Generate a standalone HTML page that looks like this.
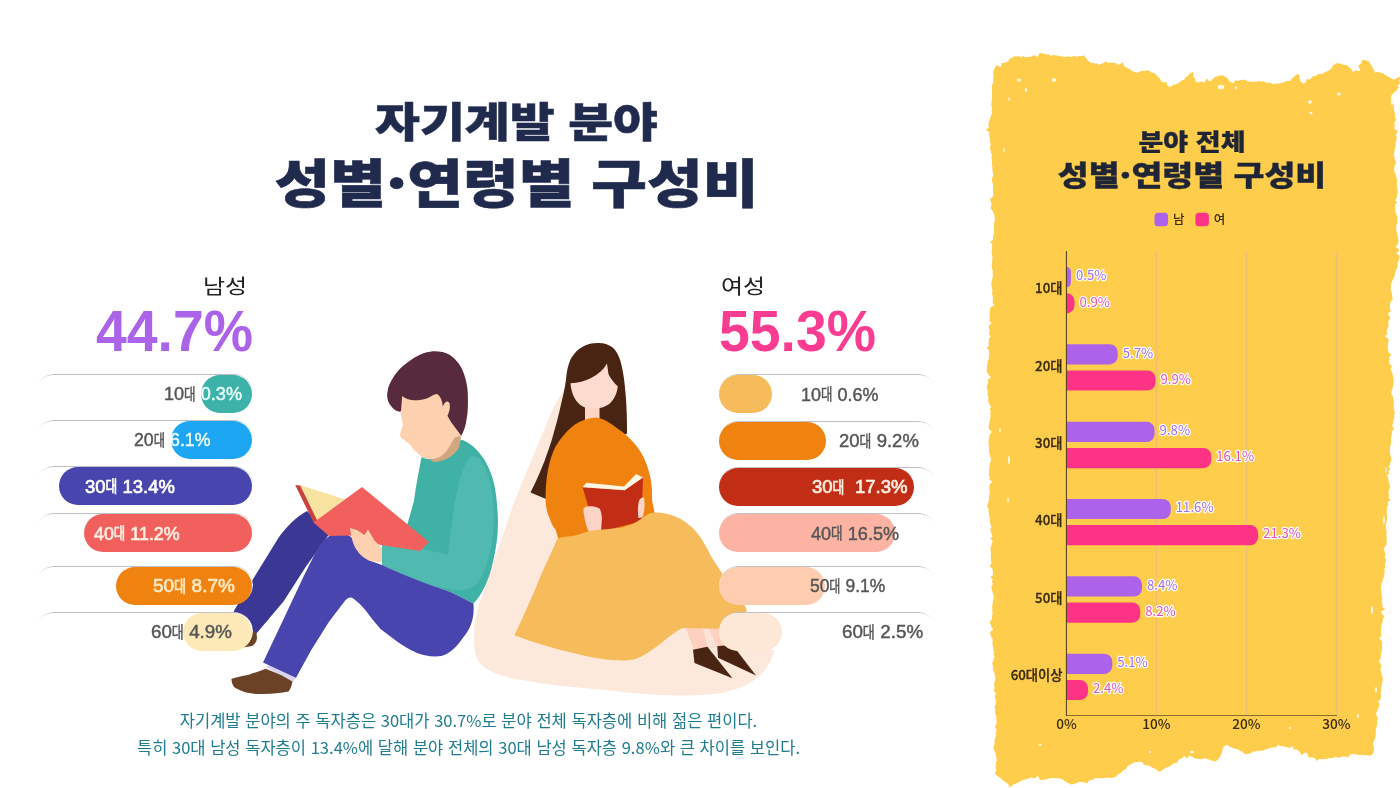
<!DOCTYPE html>
<html lang="ko">
<head>
<meta charset="utf-8">
<title>자기계발 분야 성별·연령별 구성비</title>
<style>
html,body{margin:0;padding:0;}
body{width:1400px;height:788px;position:relative;overflow:hidden;background:#fff;
  font-family:"Liberation Sans","Noto Sans CJK KR","NanumGothic",sans-serif;color:#222;}
.abs{position:absolute;}
.kr{font-family:"Noto Sans CJK KR","NanumGothic",sans-serif;}
.t1{left:0;width:1033px;top:88.5px;text-align:center;font-size:41px;font-weight:900;color:#1f2a4d;line-height:60px;white-space:nowrap;transform:scaleX(1.19);transform-origin:50% 50%;-webkit-text-stroke:0.5px #1f2a4d;}
.t2{left:0;width:1033px;top:140.7px;text-align:center;font-size:52px;font-weight:900;color:#1f2a4d;line-height:80px;white-space:nowrap;transform:scaleX(1.164);transform-origin:50% 50%;-webkit-text-stroke:0.6px #1f2a4d;}
.glabel{font-size:20.5px;transform-origin:0 50%;transform:scaleX(1.17);font-weight:400;color:#222;line-height:30px;white-space:nowrap;}
.gnum{font-size:57.4px;transform-origin:0 50%;transform:scaleX(0.965);font-weight:700;line-height:60px;white-space:nowrap;font-family:"Liberation Sans","Noto Sans CJK KR",sans-serif;}
.track{position:absolute;height:38px;border-radius:19px;background:#fff;box-sizing:border-box;border-top:1.7px solid #bfc0c6;}
.track.m{-webkit-mask-image:linear-gradient(90deg,transparent 1px,#000 14px);mask-image:linear-gradient(90deg,transparent 1px,#000 14px);}
.track.f{-webkit-mask-image:linear-gradient(270deg,transparent 1px,#000 14px);mask-image:linear-gradient(270deg,transparent 1px,#000 14px);}
.bar{position:absolute;height:38px;border-radius:19px;}
.bl{position:absolute;font-size:19px;line-height:38px;white-space:nowrap;color:#555;transform-origin:0 50%;-webkit-text-stroke:0.45px currentColor;}
.bl.bb{-webkit-text-stroke:0.7px currentColor;}
.bl .d{font-family:"Noto Sans CJK KR","NanumGothic",sans-serif;font-size:15.5px;display:inline-block;transform:scaleX(.85);transform-origin:50% 50%;margin:0 -1px;position:relative;top:-0.5px;}
.pt1{left:992px;width:400px;top:122.5px;text-align:center;font-size:23px;font-weight:900;color:#1f2535;line-height:34px;white-space:nowrap;transform:scaleX(1.175);-webkit-text-stroke:0.3px #1f2535;}
.pt2{left:992px;width:400px;top:154px;text-align:center;font-size:28.4px;font-weight:900;color:#1f2535;line-height:40px;white-space:nowrap;transform:scaleX(1.183);-webkit-text-stroke:0.35px #1f2535;}
.foot{left:0;width:937px;text-align:center;font-size:16.55px;color:#1f7c90;line-height:24px;white-space:nowrap;}
</style>
</head>
<body>
<!-- titles -->
<div class="abs kr t1">자기계발 분야</div>
<div class="abs kr t2">성별·연령별 구성비</div>

<!-- illustrations -->
<svg class="abs" id="illus" style="left:0;top:0" width="1400" height="788" viewBox="0 0 1400 788">
  <!-- peach blob behind the woman -->
  <path fill="#fde9dc" d="M580,365 L557.4,400.3 C551,412 546,425 541.2,436.8 L520.9,485.5 C515,500 509,516 504.6,530 L490.4,570.7 L478.3,607.3 C475.5,617 474.3,625 474.2,631.6 C473.6,642 474,650 476.2,656 C478.5,662.5 483,667 488.4,670 C498,675 508,678 520.9,680 C545,684.5 575,687.5 600,689.5 C620,691.5 635,693.5 650,694.5 C675,696 700,696 718,693.5 C735,691 748,685 757,678 C765,671 771,663 774.5,650 L745,611 L700,560 L640,500 L600,400 Z"/>

  <!-- ===== woman ===== -->
  <!-- hair -->
  <path fill="#4a2412" d="M599,343 C590,342.5 582,346 576.5,351.3 C572,356 570,360 569,363.5 C567,369 566.5,375 565.9,380.3 C565,388 563,396 561.3,403 C559.5,411 557.5,420 555.2,427.5 C553,436 551,443 548.4,450 C543,466 537,480 530.5,492.5 L546,499 L575,470 L610,440 L627.1,433.5 L626.8,415.3 C626.5,406 626,398 625.3,391 C624.7,384 624,378 623,372.6 C622,367 621,362 619.2,357.4 C617,352 614.5,349 611.6,346.8 C608,344.5 604,343.2 599,343 Z"/>
  <!-- legs -->
  <path fill="#fdd0c0" d="M684.5,625 L721,625 L725,646 L694,650 Z"/>
  <path fill="#fde3d8" d="M702.5,627 L708,627 L717.5,646.5 L707.5,647 Z"/>
  <!-- shoes -->
  <path fill="#4a2412" d="M693,649.7 L707.4,646.7 L732.5,678.2 L694.5,663 Z"/>
  <path fill="#4a2412" d="M717.3,646.2 L724.2,645.5 L737,650.8 L756,675.6 L718,657.7 Z"/>
  <!-- neck + face -->
  <rect x="585" y="402" width="14.5" height="19" fill="#fdd5c6"/>
  <path fill="#fddccf" d="M570.5,383.3 C585,382.5 600,376 607,363.5 C607.5,367 608,371 608.5,374.2 C611,379 614,383 617.7,386.3 C617.5,390 616.5,394 614.6,397 C611.5,403 607,406.5 600.9,407.7 C596,408.6 590,408.6 585.7,407.7 C579,405.5 575,400 572.7,394 C571.5,390.5 570.8,387 570.5,383.3 Z"/>
  <!-- body -->
  <path fill="#f0820f" d="M596,417.5 C588,418 581,420.5 575,424.4 C567,430 560,439 555.2,447.3 C549,460 546,477 545.7,492 C545,505 547,513 549.5,517.8 C551,523 553,527 555.8,530 L560,545 L660,540 L652,500 C652,496 652,493 652,490 C651,474 646,459 637.5,447.3 C632,440 625,433 616.1,427.5 C610,423 603,418 596,417.5 Z"/>
  <!-- book -->
  <path fill="#c22d16" d="M582.5,487 L624.7,490 L643,477.4 L641.5,521 L596,533 Z"/>
  <path fill="#fff5e4" d="M586.6,482.7 L624,486.5 L636.1,473.9 L643,477.4 L624.7,490.3 L582.5,487.3 Z"/>
  <!-- hands -->
  <path fill="#fdd3c8" d="M583.6,508.6 C585,506.5 588,506 590.5,506.3 C594,506 597,507 599.6,508.6 C601,511 601.8,515 601.9,518.5 L601,532 L589,532 C586.5,527 585,522 584.4,517 C583.6,514 583.2,511 583.6,508.6 Z"/>
  <path fill="#fdd3c8" d="M639.2,500.3 C640.5,498 642.5,497 643.8,497.2 C644.6,500 644.8,504 644.5,507.9 C644.2,512 643.5,515 642.2,517.5 L638.4,518 C638,515 637.8,511 638,507.9 C638.2,504.5 638.6,502 639.2,500.3 Z"/>
  <!-- skirt (on top of body/book/hands) -->
  <path fill="#f6bb5b" d="M557,539.5 L560,537.6 L575.2,535.5 C581,534 586,532 590.5,530.7 L605.7,529.2 L620.9,527.7 C626,526.5 630,525 633.1,523.9 L640.7,519.3 L646.8,514.7 C649,513.3 652,512.5 654.4,512.4 C659,512.3 663,512.8 666.6,513.7 C672,515 676,516.5 680,518.5 C686,522 691,526 695,530.5 C702,538 707,548 711.5,557 C718,567 725,578 733,589 C738,595 743,601 747,610.5 L726,629 L683,628 C676,631 670,636 662,642.4 C654,648 646,655 637,658.4 C630,660.5 622,661 612,660 C598,659 580,655 559,649.5 C545,646 530,641 514.4,635.3 C524,615 533,595 541,575 C546,564 551,553 557,539.5 Z"/>

  <!-- ===== man ===== -->
  <!-- back leg -->
  <path fill="#3a3894" d="M307,511 C296,517 285,528 278.4,538 L258,571 L235,609 L220,640 L256,634 L283.5,601.5 L306.3,566 L330,533 Z"/>
  <!-- back shoe -->
  <path fill="#6b4226" d="M246,628 L256,632 C258,638 257,643 252,646 L240,648 Z"/>
  <!-- front shoe + sock -->
  <path fill="#d9d3ee" d="M266,667 L273,663 L297,677 L292,683 L281,676 Z"/>
  <path fill="#6b4226" d="M231.4,679 C232,684 233,686 235,687.8 C242,692 250,694 258,694 C270,694.5 280,693 288.5,691.6 C291,688 292,685 292.3,681.5 L281,675 L265.7,668.8 C260,671 254,673 248,675 C242,676 236,677 231.4,679 Z"/>
  <!-- sweater -->
  <path fill="#3fb1a5" d="M421.6,457 C419,470 416,485 414,501 L408,522 L404,535 L382,541 L382,565 C395,571 405,575 417,580 C430,585 440,588 450.6,592 L473.4,603.5 C482,595 489,580 493,562 C497,545 498.5,530 497.8,516 C497,502 496,490 493,479.6 C490,470 486,461 481,455 C476,448 470,443 462.8,440 L458.8,440.5 C450,455 435,463 421.6,457 Z"/>
  <path fill="#50bab1" d="M473.1,456 C468,458 466,462 464.7,466 C461,474 459,482 457.5,490 C455,499 454,507 453,514 L450,538.4 L447.8,555 L428.6,550 L420,548 L382,541 L382,565 L390,568 C398,572 406,576 414,579.4 C422,582.5 430,585 438.2,586.6 C447,588.5 455,590.5 462.3,590 C468,589.5 473,587.5 476.7,584 C481,579 484,572 486.4,565 C489,557 491,548 492.4,538.4 C493.5,529 494,519 493.6,509.5 C493,500 492,491 490,483 C488.5,476 486.5,470 484,466 C482,461 479.5,458 476.7,457 C475.5,456.3 474.3,456 473.1,456 Z"/>
  <!-- pants front -->
  <path fill="#4845ae" d="M335,533 C343,532 349,534 354,540 L368,560 L382,565 C395,571 405,575 417,580 C430,585 440,588 450.6,592 L473.4,603.5 C475,618 470,630 462.8,638 C456,648 449,654 441.4,656 C433,657 425,656 417,653 C410,650 404,646 397.7,642 L380.5,629 L372.3,619.3 C366,610 359,602 352,597.7 C349,597 346,599 344.4,601.5 L329,621.8 L311.4,649.7 L296,677.7 L263,662.4 L283.5,619.3 L303.8,576 L316.4,550.8 C321,543 327,536 335,533 Z"/>
  <!-- book -->
  <path fill="#f9e3a0" d="M299.8,485 L345.5,499.4 L316.5,520.5 Z"/>
  <path fill="#c8433f" d="M295.2,485 L300.2,485.5 L317,520 L313.5,522.5 Z"/>
  <path fill="#f2605e" d="M313.5,522.5 L362,487 L429,542 L420,551 L380.5,545 L350,535.5 L329,536 Z"/>
  <!-- hand -->
  <path fill="#fdd0b0" d="M350,528 C351,535 352,541 354.6,546.6 C358,553 362,557 368,560 C373,562 378,562 382,561.8 L382,548 L374.4,540.5 L368,529.5 L364.5,535 L357,530 Z"/>
  <!-- neck shadow / face / hair -->
  <path fill="#fdd0b0" d="M402.2,395.9 L400.3,411.7 C401,416 402,420 402.8,424.4 C402,428 401,431 400.3,433.3 C400,435 400.3,436.5 401,437.7 L405.4,441 L410.5,444.7 C412,448 414,450 416.8,452.3 C419,455 421,456.5 423.1,457.4 C426,458.5 428,459.2 430.8,459.3 C435,459.2 438,458 441,456 C444,455 446,454 447.3,452.3 L456,439.6 L461.2,435.8 L452,420 L449,405 L441,392 L420,392 Z"/>
  <path fill="#d2a780" d="M432,459.4 C438,458.6 443,455.5 446.5,451 C449,447.5 452,442 454.5,437.5 L461.2,435.8 L460.8,438 C460.3,442 459.6,446 458.7,448.5 C456,452 454,454.5 451,456.3 C446,459.5 441,461.6 436,462 C432,462 430,460 432,459.4 Z"/>
  <path fill="#582a3e" d="M399.5,411.7 C396,411 394,409.5 392.7,408 C390,405 388,402 387.6,399 C387,396 387,394 387.6,391.4 C388,387 390,383 392.5,378.8 C397,371 402,366 408.5,361.7 C416,356 424,352 431.4,351.4 C438,351 445,352 449.6,354.8 C457,360 461,366 463.3,372 C467,382 468,390 467.9,397 C468,405 468,412 466.8,417.7 C466,425 464,431 461.2,435.8 L451,421.9 L447.3,415.5 L442.8,406.6 C442.5,404 442,401 441,399 C440,396.5 438.5,394.5 437,394 C435,394 433,395.3 430.8,396.5 C427,398.5 423,400 418,400.3 C414,400.5 410,400 407.3,399 C405,398 403.5,397 402.2,395.9 L401,411 Z"/>
  <path fill="#fdd0b0" d="M442.8,406.8 C443.8,403.5 445.8,401.5 447.3,401.6 C449,401.9 450,403.5 449.8,405.4 C450,408 449.6,410 449,411.7 C448.5,414 447.6,415.6 446.6,416.3 C445,415 443.5,411 442.8,406.8 Z"/>
</svg>


<!-- male group -->
<div class="abs kr glabel" style="left:203px;top:269.5px;">남성</div>
<div class="abs gnum" style="left:96px;top:301px;color:#ab63e8;">44.7%</div>

<!-- female group -->
<div class="abs kr glabel" style="left:721px;top:269.5px;">여성</div>
<div class="abs gnum" style="left:719px;top:301px;color:#fa3c92;">55.3%</div>

<!-- male bars -->
<div class="track m" style="left:35px;top:373.5px;width:218px;"></div>
<div class="bar" style="left:200.8px;top:374.5px;width:51.2px;background:#3cb2a9;"></div>
<div class="bl" id="m0" style="left:163.7px;top:374.0px;transform:scaleX(0.951);"><span style="color:#555">10<span class="d">대</span></span> <span style="color:#ecfffb">0.3%</span></div>
<div class="track m" style="left:35px;top:419.8px;width:218px;"></div>
<div class="bar" style="left:171.3px;top:420.8px;width:80.7px;background:#1da7f2;"></div>
<div class="bl" id="m1" style="left:133.6px;top:420.3px;transform:scaleX(0.932);"><span style="color:#555">20<span class="d">대</span></span> <span style="color:#f2fbff">6.1%</span></div>
<div class="track m" style="left:35px;top:466.0px;width:218px;"></div>
<div class="bar" style="left:59.0px;top:467.0px;width:193.0px;background:#4845ae;"></div>
<div class="bl bb" id="m2" style="left:85.3px;top:466.5px;transform:scaleX(0.970);"><span style="color:#fff">30<span class="d">대</span></span> <span style="color:#fff">13.4%</span></div>
<div class="track m" style="left:35px;top:513.0px;width:218px;"></div>
<div class="bar" style="left:83.8px;top:514.0px;width:168.2px;background:#f2605e;"></div>
<div class="bl bb" id="m3" style="left:94.2px;top:513.5px;transform:scaleX(0.940);"><span style="color:#fdeee0">40<span class="d">대</span></span> <span style="color:#fdeee0">11.2%</span></div>
<div class="track m" style="left:35px;top:565.5px;width:218px;"></div>
<div class="bar" style="left:115.5px;top:566.5px;width:136.5px;background:#f0820f;"></div>
<div class="bl bb" id="m4" style="left:153.2px;top:566.0px;transform:scaleX(0.998);"><span style="color:#fde8c0">50<span class="d">대</span></span> <span style="color:#fde8c0">8.7%</span></div>
<div class="track m" style="left:35px;top:611.6px;width:218px;"></div>
<div class="bar" style="left:183.3px;top:612.6px;width:68.7px;background:#fde9b8;"></div>
<div class="bl" id="m5" style="left:151.3px;top:612.1px;transform:scaleX(0.987);"><span style="color:#555">60<span class="d">대</span></span> <span style="color:#555">4.9%</span></div>
<!-- female bars -->
<div class="track f" style="left:719px;top:374.0px;width:218px;"></div>
<div class="bar" style="left:719px;top:375.0px;width:53.0px;background:#f6bb5b;"></div>
<div class="bl" id="f0" style="left:800.9px;top:374.5px;color:#555;transform:scaleX(0.944);">10<span class="d">대</span> 0.6%</div>
<div class="track f" style="left:719px;top:420.6px;width:218px;"></div>
<div class="bar" style="left:719px;top:421.6px;width:107.0px;background:#f0820f;"></div>
<div class="bl" id="f1" style="left:839.0px;top:421.1px;color:#555;transform:scaleX(0.974);">20<span class="d">대</span> 9.2%</div>
<div class="track f" style="left:719px;top:466.8px;width:218px;"></div>
<div class="bar" style="left:719px;top:467.8px;width:195.0px;background:#c22d16;"></div>
<div class="bl bb" id="f2" style="left:812.0px;top:467.3px;color:#fdeee0;transform:scaleX(0.976);">30<span class="d">대</span> &nbsp;17.3%</div>
<div class="track f" style="left:719px;top:513.0px;width:218px;"></div>
<div class="bar" style="left:719px;top:514.0px;width:175.5px;background:#fdb3a4;"></div>
<div class="bl" id="f3" style="left:811.0px;top:513.5px;color:#555;transform:scaleX(0.951);">40<span class="d">대</span> 16.5%</div>
<div class="track f" style="left:719px;top:565.5px;width:218px;"></div>
<div class="bar" style="left:719px;top:566.5px;width:105.7px;background:#fecdb0;"></div>
<div class="bl" id="f4" style="left:810.4px;top:566.0px;color:#555;transform:scaleX(0.917);">50<span class="d">대</span> 9.1%</div>
<div class="track f" style="left:719px;top:611.6px;width:218px;"></div>
<div class="bar" style="left:719px;top:612.6px;width:62.5px;background:#fde8d8;"></div>
<div class="bl" id="f5" style="left:841.8px;top:612.1px;color:#555;transform:scaleX(0.990);">60<span class="d">대</span> 2.5%</div>

<!-- footer -->
<div class="abs kr foot" style="top:708px;">자기계발 분야의 주 독자층은 30대가 30.7%로 분야 전체 독자층에 비해 젊은 편이다.</div>
<div class="abs kr foot" style="top:735px;">특히 30대 남성 독자층이 13.4%에 달해 분야 전체의 30대 남성 독자층 9.8%와 큰 차이를 보인다.</div>

<!-- right panel -->
<svg class="abs" style="left:0;top:0" width="1400" height="788" viewBox="0 0 1400 788">
<path d="M993.9,76.1 L993.0,73.6 L993.6,71.5 L994.2,69.4 L995.2,66.5 L997.0,64.9 L1000.9,67.3 L1001.4,63.1 L1003.9,62.9 L1006.2,62.2 L1008.3,61.2 L1009.5,58.6 L1011.6,58.2 L1013.8,56.2 L1016.2,56.5 L1018.6,56.3 L1021.0,56.9 L1023.3,56.3 L1025.9,57.3 L1028.2,57.1 L1030.6,57.0 L1032.8,55.4 L1035.2,55.5 L1037.7,56.9 L1039.7,53.1 L1041.9,53.4 L1044.2,53.4 L1046.3,54.4 L1048.6,54.3 L1050.6,55.9 L1053.0,54.9 L1055.2,55.2 L1057.4,55.5 L1059.6,56.3 L1061.9,56.2 L1064.1,56.9 L1066.4,56.6 L1068.9,56.6 L1071.4,57.0 L1073.8,55.8 L1076.3,56.8 L1078.8,56.3 L1081.2,56.0 L1084.0,55.5 L1085.5,57.3 L1086.9,59.2 L1088.5,61.0 L1090.2,62.4 L1092.6,62.9 L1095.0,63.6 L1097.6,63.5 L1098.8,65.0 L1101.0,63.9 L1103.4,63.1 L1105.8,61.6 L1107.9,63.1 L1110.7,62.6 L1113.2,62.7 L1115.6,63.1 L1117.4,64.8 L1120.0,64.2 L1123.0,62.2 L1124.2,66.3 L1126.3,67.4 L1128.3,68.5 L1130.4,69.5 L1132.3,71.2 L1134.5,71.8 L1137.3,72.8 L1139.4,71.9 L1141.5,70.7 L1143.8,71.0 L1146.1,70.8 L1147.2,70.1 L1149.4,70.9 L1151.1,72.5 L1153.6,72.9 L1155.7,73.9 L1157.0,75.9 L1158.7,77.3 L1160.2,79.0 L1161.2,81.3 L1163.5,82.3 L1166.8,82.3 L1167.1,85.2 L1168.4,86.6 L1171.3,86.6 L1173.3,84.8 L1176.0,84.2 L1178.3,82.9 L1180.2,81.7 L1181.9,80.2 L1184.2,79.7 L1185.5,77.6 L1187.3,76.3 L1189.0,74.8 L1190.4,73.0 L1193.1,72.0 L1193.8,74.1 L1193.1,76.9 L1195.0,78.5 L1195.4,80.8 L1197.3,82.4 L1199.6,81.8 L1202.0,81.6 L1204.4,82.8 L1206.5,78.6 L1209.0,81.0 L1211.1,81.1 L1213.0,78.8 L1215.1,77.1 L1217.6,76.3 L1221.8,75.1 L1224.0,76.1 L1225.9,77.3 L1227.9,78.6 L1229.3,81.0 L1231.3,82.2 L1233.5,83.6 L1234.9,80.2 L1238.1,81.1 L1240.4,80.0 L1242.9,79.7 L1245.1,79.7 L1247.2,81.1 L1249.5,81.5 L1251.7,82.1 L1254.0,81.7 L1256.3,81.7 L1258.6,80.9 L1260.8,81.5 L1263.1,81.3 L1265.3,82.2 L1267.5,83.0 L1269.8,82.6 L1271.9,83.7 L1274.4,84.1 L1276.6,83.5 L1278.9,83.5 L1281.1,83.0 L1283.3,82.4 L1285.5,81.6 L1287.7,81.0 L1290.0,80.9 L1291.7,78.8 L1293.5,76.9 L1295.6,75.2 L1298.1,73.7 L1299.3,75.8 L1299.7,78.4 L1300.3,80.9 L1303.4,83.8 L1305.5,82.4 L1306.7,79.3 L1309.8,79.5 L1311.7,77.7 L1313.5,75.7 L1316.0,76.1 L1317.9,74.1 L1320.2,73.9 L1322.6,74.0 L1324.5,72.2 L1326.7,71.4 L1328.2,70.8 L1330.2,69.4 L1331.9,67.6 L1333.2,65.2 L1336.7,63.3 L1339.1,63.2 L1341.6,63.9 L1344.2,65.0 L1346.7,64.9 L1348.7,66.9 L1351.0,68.5 L1352.8,71.9 L1355.6,70.3 L1358.3,71.1 L1360.6,71.0 L1359.3,68.2 L1358.4,65.4 L1361.6,63.0 L1362.0,60.0 L1364.7,60.0 L1367.3,60.9 L1369.4,61.6 L1370.0,63.9 L1371.6,65.6 L1372.5,67.8 L1374.0,70.2 L1375.1,72.8 L1378.6,71.7 L1380.6,72.7 L1383.0,73.2 L1384.7,74.4 L1386.9,75.9 L1389.1,77.1 L1391.2,78.6 L1393.9,79.7 L1395.9,78.6 L1398.0,77.8 L1400.0,76.5 L1400.0,78.8 L1399.3,81.1 L1400.0,83.4 L1397.4,85.7 L1399.0,87.2 L1397.4,88.9 L1396.3,91.0 L1394.2,92.3 L1392.7,94.1 L1391.2,97.1 L1393.2,99.3 L1392.9,101.6 L1393.5,103.8 L1393.6,106.1 L1393.8,108.4 L1394.1,110.7 L1394.8,113.0 L1395.4,115.3 L1394.8,117.6 L1396.6,119.8 L1394.3,122.2 L1394.7,124.5 L1394.6,126.8 L1394.4,129.1 L1398.1,131.2 L1396.3,133.6 L1396.2,136.0 L1396.9,138.3 L1396.2,140.7 L1395.4,143.1 L1395.7,145.4 L1395.3,147.8 L1394.6,150.2 L1394.2,152.6 L1393.7,154.9 L1394.6,157.3 L1394.7,159.6 L1396.2,161.9 L1395.3,164.3 L1394.5,166.6 L1394.1,168.9 L1394.3,171.2 L1395.2,173.4 L1396.1,175.6 L1396.4,177.9 L1397.3,180.1 L1397.0,182.4 L1396.7,184.7 L1397.2,187.0 L1397.3,189.2 L1397.9,191.4 L1397.5,193.7 L1396.9,195.9 L1396.7,198.1 L1395.2,200.3 L1397.4,202.5 L1395.0,204.7 L1395.0,207.0 L1395.4,209.2 L1395.5,211.4 L1396.0,213.6 L1397.1,215.8 L1397.7,218.0 L1397.3,220.3 L1397.6,222.5 L1396.6,224.7 L1396.2,226.9 L1396.3,229.1 L1396.5,231.3 L1397.3,233.6 L1397.5,235.8 L1398.1,238.0 L1398.4,240.1 L1398.2,242.4 L1397.7,244.6 L1395.5,246.9 L1398.7,248.9 L1399.1,251.1 L1396.0,253.5 L1399.4,255.5 L1399.4,257.7 L1399.1,260.3 L1397.6,262.3 L1397.8,264.8 L1397.5,267.1 L1396.3,269.2 L1395.6,271.4 L1394.8,273.6 L1394.8,276.0 L1393.5,278.1 L1392.6,280.3 L1391.7,282.5 L1390.8,284.9 L1391.0,287.3 L1390.6,289.6 L1391.4,292.1 L1392.2,294.6 L1392.2,296.9 L1392.9,299.4 L1390.8,301.6 L1390.0,303.9 L1389.9,306.3 L1389.8,308.6 L1391.0,311.1 L1388.1,313.2 L1388.8,315.5 L1390.3,317.9 L1389.1,320.1 L1388.3,322.3 L1388.5,324.6 L1388.3,326.9 L1387.3,329.1 L1386.6,331.4 L1387.4,333.7 L1384.7,336.2 L1388.0,338.4 L1388.8,340.7 L1388.0,343.1 L1387.9,345.5 L1387.8,347.9 L1388.3,350.2 L1388.6,352.6 L1391.5,354.8 L1388.8,357.3 L1389.8,359.6 L1389.2,362.0 L1389.7,364.3 L1392.4,366.3 L1390.6,368.8 L1391.4,371.0 L1392.4,373.2 L1392.8,375.5 L1393.4,377.7 L1393.6,380.0 L1393.6,382.3 L1393.2,384.6 L1392.8,386.9 L1392.2,389.4 L1391.4,391.8 L1391.5,394.2 L1393.1,396.4 L1393.0,398.8 L1393.7,401.1 L1393.7,403.5 L1393.8,405.9 L1393.7,408.3 L1394.1,410.6 L1395.0,413.1 L1394.0,415.3 L1394.4,417.7 L1393.5,419.9 L1393.1,422.1 L1392.6,424.4 L1392.2,426.6 L1394.4,429.2 L1391.5,431.1 L1392.3,433.5 L1391.3,435.7 L1391.2,438.0 L1390.9,440.2 L1391.0,442.4 L1390.9,444.6 L1390.1,446.8 L1390.1,449.0 L1389.7,451.2 L1390.0,453.4 L1390.5,455.6 L1390.9,457.8 L1391.6,460.1 L1390.2,462.2 L1390.2,464.4 L1388.5,466.5 L1390.5,468.9 L1388.2,470.9 L1389.4,473.3 L1387.0,475.3 L1388.2,477.7 L1388.3,479.9 L1389.1,482.3 L1389.5,484.5 L1390.0,486.8 L1389.5,489.0 L1388.7,491.2 L1388.4,493.4 L1389.1,495.7 L1388.5,497.9 L1390.5,500.1 L1387.6,502.3 L1388.4,504.6 L1387.0,506.8 L1386.8,509.1 L1386.7,511.4 L1386.8,513.7 L1387.0,516.0 L1387.0,518.2 L1386.9,520.5 L1386.3,522.8 L1385.7,525.0 L1385.8,527.3 L1386.1,529.6 L1386.7,531.9 L1386.3,534.2 L1386.5,536.5 L1386.5,538.7 L1386.7,541.0 L1386.7,543.3 L1386.2,545.6 L1384.1,547.8 L1384.2,550.1 L1384.9,552.4 L1385.5,554.7 L1384.6,556.9 L1386.1,559.3 L1386.0,561.5 L1384.8,563.8 L1385.1,566.1 L1384.6,568.3 L1384.6,570.6 L1384.6,572.9 L1384.1,575.2 L1383.6,577.4 L1382.9,579.7 L1382.4,581.9 L1381.4,584.1 L1381.3,586.4 L1380.9,588.6 L1381.4,591.0 L1381.6,593.3 L1381.5,595.6 L1382.3,597.9 L1382.2,600.2 L1381.8,602.5 L1382.7,604.8 L1382.3,607.1 L1385.3,609.6 L1381.0,611.6 L1382.1,613.9 L1384.6,616.4 L1382.8,618.6 L1382.9,620.8 L1382.2,623.0 L1381.5,625.2 L1381.1,627.4 L1381.0,629.7 L1380.8,631.9 L1381.4,634.1 L1381.3,636.3 L1379.2,638.6 L1381.6,640.8 L1382.2,643.0 L1381.8,645.2 L1382.2,647.4 L1381.7,649.7 L1381.7,651.9 L1381.0,654.1 L1380.6,656.3 L1380.9,658.6 L1378.7,660.8 L1380.2,663.0 L1381.5,665.3 L1380.9,667.6 L1380.4,669.8 L1381.2,672.1 L1381.7,674.4 L1382.5,676.7 L1382.8,678.9 L1382.6,681.2 L1382.0,683.5 L1381.9,685.8 L1381.1,688.1 L1381.1,690.3 L1380.6,692.6 L1380.7,694.9 L1381.0,697.2 L1380.4,699.4 L1378.0,701.7 L1379.5,703.7 L1379.4,706.0 L1378.4,708.1 L1377.6,710.2 L1376.5,712.3 L1376.1,714.5 L1377.3,717.0 L1377.7,719.3 L1376.9,721.4 L1377.4,723.8 L1376.7,725.9 L1376.4,728.2 L1375.7,730.3 L1375.8,732.6 L1375.8,734.9 L1375.4,737.1 L1374.7,739.3 L1373.7,741.5 L1372.9,743.7 L1373.8,746.2 L1373.9,748.5 L1374.1,750.9 L1372.8,753.8 L1370.7,755.4 L1368.5,755.6 L1366.1,755.2 L1363.8,755.0 L1361.5,754.8 L1359.3,755.3 L1357.0,754.6 L1354.7,754.3 L1352.4,754.0 L1350.2,754.6 L1348.2,757.8 L1345.9,756.6 L1343.6,756.3 L1341.4,756.7 L1339.2,757.9 L1336.9,757.0 L1334.7,757.3 L1332.5,757.9 L1330.2,758.0 L1328.0,758.4 L1325.8,759.1 L1323.6,759.2 L1321.3,759.1 L1319.1,759.0 L1316.9,760.9 L1314.5,758.3 L1312.3,757.3 L1310.0,757.6 L1308.3,757.2 L1307.5,753.8 L1305.6,752.3 L1301.1,755.6 L1300.3,752.2 L1298.4,750.8 L1296.4,749.5 L1293.8,749.3 L1292.9,746.2 L1289.4,747.9 L1287.2,747.3 L1284.9,746.8 L1282.6,745.8 L1280.4,746.3 L1278.1,744.8 L1276.0,747.3 L1273.8,747.5 L1271.6,747.6 L1269.4,748.3 L1267.2,748.9 L1265.1,749.4 L1262.9,750.7 L1260.4,750.8 L1258.0,751.1 L1255.6,751.6 L1253.0,751.4 L1250.9,753.3 L1248.5,753.8 L1245.7,754.3 L1243.7,753.1 L1242.0,751.5 L1239.7,750.8 L1238.0,749.1 L1235.6,749.0 L1233.4,748.1 L1231.1,747.6 L1229.3,746.2 L1227.2,745.1 L1225.9,745.0 L1223.9,746.5 L1222.9,748.5 L1222.3,750.8 L1221.7,753.0 L1220.8,755.1 L1219.8,757.2 L1218.3,758.9 L1215.5,761.7 L1213.4,760.8 L1211.2,760.7 L1209.1,759.4 L1206.9,758.9 L1204.8,758.1 L1202.5,759.2 L1200.3,759.3 L1198.1,758.9 L1195.9,758.6 L1193.8,757.7 L1191.7,756.6 L1189.6,755.6 L1187.1,758.2 L1184.1,755.7 L1182.6,757.9 L1180.2,758.9 L1178.0,760.3 L1177.1,763.3 L1173.7,763.1 L1172.1,764.8 L1170.1,765.9 L1168.1,767.0 L1165.9,767.8 L1164.1,769.1 L1162.0,770.0 L1160.6,771.7 L1158.2,771.2 L1156.3,769.6 L1154.3,768.5 L1152.0,767.6 L1150.1,766.2 L1147.9,765.3 L1145.2,765.3 L1143.3,763.9 L1142.3,762.1 L1139.4,761.8 L1136.7,762.3 L1134.0,762.4 L1131.7,763.9 L1129.1,765.1 L1127.4,766.8 L1126.0,769.0 L1123.8,770.0 L1121.8,771.4 L1120.4,773.5 L1118.0,774.3 L1116.6,776.3 L1114.0,777.4 L1111.5,777.9 L1109.0,777.5 L1106.5,777.8 L1104.0,778.0 L1101.5,778.4 L1099.3,778.0 L1097.1,778.2 L1094.7,777.9 L1092.9,779.9 L1090.6,779.8 L1088.6,781.0 L1087.0,783.8 L1084.3,782.2 L1081.9,781.9 L1079.5,781.8 L1077.5,782.8 L1075.4,783.6 L1073.3,784.3 L1071.0,784.5 L1068.9,783.3 L1066.7,782.4 L1064.6,781.0 L1062.2,779.0 L1060.0,778.7 L1057.8,778.1 L1055.6,778.3 L1053.3,778.1 L1051.1,778.0 L1048.8,778.6 L1046.5,779.2 L1044.2,779.7 L1042.0,780.1 L1039.8,779.8 L1037.9,775.6 L1035.4,778.3 L1033.2,778.2 L1030.7,777.2 L1028.8,778.5 L1026.7,779.3 L1024.4,779.6 L1022.2,780.1 L1020.3,781.5 L1018.2,782.3 L1016.2,783.4 L1014.1,784.2 L1012.2,785.4 L1008.6,787.6 L1008.7,784.0 L1006.4,783.1 L1004.7,781.5 L1002.6,780.3 L1001.2,778.4 L999.1,777.3 L997.3,775.7 L994.9,773.4 L996.3,770.0 L995.5,767.7 L996.0,765.4 L995.8,763.1 L996.9,760.8 L996.6,758.5 L996.0,756.2 L995.7,753.9 L994.8,751.6 L994.0,749.3 L993.5,747.0 L994.2,744.7 L994.6,742.4 L994.4,740.1 L995.3,737.8 L996.0,735.6 L995.7,733.3 L996.5,731.1 L996.5,728.9 L994.8,726.7 L996.1,724.4 L996.7,722.2 L996.4,720.0 L996.4,717.7 L995.9,715.5 L995.2,713.3 L994.9,711.1 L995.2,708.9 L994.4,706.7 L995.6,704.4 L995.7,702.2 L995.9,700.0 L994.9,697.7 L994.9,695.4 L996.0,693.1 L993.7,690.9 L994.6,688.6 L994.4,686.4 L994.0,684.1 L994.7,681.8 L995.1,679.5 L995.4,677.2 L994.6,675.0 L994.4,672.7 L993.3,670.5 L993.1,668.2 L993.2,665.9 L991.9,663.7 L993.1,661.4 L993.8,659.1 L994.5,656.8 L993.5,654.5 L994.3,652.2 L993.3,650.0 L993.3,647.7 L992.6,645.5 L992.5,643.2 L992.6,640.9 L992.5,638.6 L990.9,636.4 L990.6,634.1 L990.0,631.9 L993.3,629.5 L991.2,627.3 L991.1,625.0 L989.4,622.8 L991.1,620.5 L992.1,618.2 L991.8,615.9 L992.6,613.6 L992.3,611.4 L992.4,609.1 L992.1,606.8 L992.5,604.5 L992.7,602.3 L993.3,600.0 L993.8,597.7 L993.6,595.4 L992.9,593.2 L992.1,590.9 L991.8,588.6 L991.3,586.4 L993.0,584.1 L991.8,581.8 L992.8,579.5 L990.4,577.3 L993.0,575.0 L992.9,572.7 L992.7,570.4 L992.3,568.2 L989.3,565.9 L991.5,563.6 L991.1,561.4 L991.1,559.1 L990.6,556.8 L991.0,554.5 L990.9,552.3 L990.6,550.0 L990.4,547.7 L991.5,545.4 L991.9,543.2 L992.8,540.9 L990.5,538.6 L992.4,536.3 L991.6,534.1 L991.0,531.8 L990.1,529.6 L991.6,527.2 L990.5,525.0 L990.2,522.7 L989.7,520.5 L989.8,518.2 L989.5,515.9 L988.8,513.7 L988.5,511.4 L988.6,509.1 L987.2,506.9 L987.6,504.6 L988.4,502.3 L988.8,500.0 L989.0,497.7 L989.1,495.5 L989.8,493.2 L989.9,490.9 L989.2,488.6 L989.2,486.4 L989.9,484.1 L992.5,481.8 L989.3,479.5 L990.0,477.3 L988.6,475.0 L989.3,472.7 L989.1,470.5 L989.3,468.2 L989.7,465.9 L989.7,463.6 L990.9,461.3 L990.8,459.1 L990.4,456.8 L989.6,454.5 L989.3,452.3 L988.9,450.0 L989.3,447.7 L988.6,445.5 L988.7,443.2 L988.6,440.9 L989.0,438.6 L989.2,436.4 L990.0,434.1 L991.8,431.8 L989.1,429.5 L988.8,427.3 L988.9,425.0 L989.3,422.7 L990.0,420.4 L990.2,418.2 L990.7,415.9 L990.1,413.6 L990.9,411.4 L989.6,409.1 L991.3,406.8 L989.3,404.5 L988.5,402.3 L988.1,400.0 L988.6,397.7 L987.5,395.5 L987.9,393.2 L987.6,391.0 L987.2,388.7 L986.7,386.4 L987.6,384.2 L988.3,381.9 L987.5,379.7 L990.9,377.4 L989.0,375.2 L987.3,372.9 L986.6,370.6 L986.8,368.4 L987.0,366.1 L987.5,363.9 L987.5,361.6 L988.6,359.4 L988.7,357.1 L989.2,354.8 L989.0,352.6 L989.2,350.3 L986.5,348.1 L989.0,345.8 L988.4,343.5 L989.1,341.3 L989.0,339.0 L990.4,336.8 L989.4,334.5 L989.4,332.3 L989.7,330.0 L988.9,327.7 L989.0,325.4 L991.6,323.3 L989.5,320.9 L989.7,318.6 L989.8,316.4 L989.5,314.1 L989.8,311.8 L989.9,309.5 L990.7,307.3 L994.5,305.2 L992.5,302.8 L993.0,300.6 L992.9,298.3 L992.6,296.0 L992.0,293.7 L992.5,291.4 L992.0,289.1 L991.7,286.8 L991.3,284.5 L991.5,282.3 L992.0,280.0 L992.6,277.8 L992.9,275.6 L992.6,273.3 L992.7,271.1 L992.1,268.8 L991.7,266.5 L991.9,264.3 L992.2,262.1 L992.3,259.8 L992.4,257.6 L992.2,255.3 L991.6,253.1 L991.6,250.8 L991.9,248.6 L992.3,246.4 L992.0,244.1 L990.0,241.8 L993.3,239.7 L992.8,237.4 L993.2,235.2 L994.1,233.0 L994.0,230.7 L994.0,228.4 L994.1,226.1 L994.1,223.8 L994.3,221.5 L995.0,219.2 L994.7,216.9 L994.2,214.7 L993.5,212.4 L992.1,210.2 L990.6,208.0 L991.3,205.6 L991.6,203.3 L990.4,201.1 L990.1,198.8 L993.0,196.4 L993.4,194.1 L993.1,191.8 L993.1,189.5 L993.1,187.2 L993.1,185.0 L992.5,182.7 L992.0,180.4 L992.0,178.1 L993.2,175.8 L993.1,173.5 L992.4,171.2 L992.5,169.0 L992.3,166.7 L991.9,164.4 L992.0,162.1 L991.9,159.8 L991.5,157.5 L991.9,155.2 L991.2,153.0 L990.7,150.7 L990.0,148.4 L990.4,146.1 L990.6,143.8 L990.0,141.6 L990.1,139.3 L989.5,137.0 L989.0,134.6 L989.6,132.3 L985.5,129.8 L988.9,127.7 L988.4,125.3 L988.7,123.0 L989.2,120.7 L990.1,118.4 L990.7,116.2 L991.9,113.9 L991.8,111.6 L991.8,109.3 L991.8,106.9 L991.2,104.6 L991.5,102.3 L991.8,100.0 L992.2,97.6 L992.0,95.2 L991.8,92.8 L992.3,90.4 L991.8,87.9 L991.8,85.5 L993.0,83.2 L993.3,80.8 L993.1,78.4Z" fill="#fecd4b"/>
<ellipse cx="1019" cy="80" rx="2.2" ry="1.6" fill="#fff" opacity=".85"/><ellipse cx="1026" cy="90" rx="1.2" ry="2" fill="#fff" opacity=".85"/><ellipse cx="1009" cy="99" rx="0.8" ry="2" fill="#fff" opacity=".85"/><ellipse cx="1054" cy="80" rx="2.3" ry="1.8" fill="#fff" opacity=".85"/><ellipse cx="1221" cy="87" rx="3.2" ry="2.3" fill="#fff" opacity=".85"/><ellipse cx="1236" cy="88" rx="1.2" ry="1.4" fill="#fff" opacity=".85"/><ellipse cx="1310" cy="102" rx="2" ry="1.8" fill="#fff" opacity=".85"/><ellipse cx="1339" cy="94" rx="2" ry="1.6" fill="#fff" opacity=".85"/><ellipse cx="1311" cy="113" rx="1.5" ry="1.2" fill="#fff" opacity=".85"/><ellipse cx="1392" cy="100" rx="1.2" ry="5" fill="#fff" opacity=".85"/><ellipse cx="1009" cy="460" rx="1" ry="4" fill="#fff" opacity=".85"/><ellipse cx="1008" cy="500" rx="0.8" ry="2.5" fill="#fff" opacity=".85"/><ellipse cx="1386" cy="470" rx="0.8" ry="3" fill="#fff" opacity=".85"/><ellipse cx="1384" cy="520" rx="0.9" ry="4" fill="#fff" opacity=".85"/><ellipse cx="1372" cy="610" rx="1" ry="4" fill="#fff" opacity=".85"/><ellipse cx="1376" cy="690" rx="1" ry="3" fill="#fff" opacity=".85"/><ellipse cx="1358" cy="716" rx="1" ry="2" fill="#fff" opacity=".85"/><ellipse cx="1000" cy="430" rx="0.8" ry="2" fill="#fff" opacity=".85"/><ellipse cx="1004" cy="150" rx="0.8" ry="2" fill="#fff" opacity=".85"/><ellipse cx="1192" cy="752" rx="2" ry="1.2" fill="#fff" opacity=".85"/><ellipse cx="1150" cy="752" rx="1.2" ry="1" fill="#fff" opacity=".85"/><ellipse cx="1040" cy="745" rx="1.5" ry="1" fill="#fff" opacity=".85"/><ellipse cx="1290" cy="728" rx="1" ry="1.2" fill="#fff" opacity=".85"/>
<line x1="1156.4" y1="251" x2="1156.4" y2="715.5" stroke="#ecc272" stroke-width="1.5"/>
<line x1="1246.4" y1="251" x2="1246.4" y2="715.5" stroke="#ecc272" stroke-width="1.5"/>
<line x1="1336.4" y1="251" x2="1336.4" y2="715.5" stroke="#ecc272" stroke-width="1.5"/>
<line x1="1066.4" y1="715.5" x2="1337" y2="715.5" stroke="#8a6d2c" stroke-width="1.2"/>
<path d="M1066.4,267.0 h0.0 a4.5,4.5 0 0 1 4.5,4.5 v11.2 a4.5,4.5 0 0 1 -4.5,4.5 h-0.0 Z" fill="#ad62ea"/>
<text x="1075.9" y="280.3" font-size="13.2" fill="#a46ee8" stroke="#fff" stroke-width="2.4" stroke-linejoin="round" paint-order="stroke" class="kr">0.5%</text>
<path d="M1066.4,293.2 h0.1 a8.0,8.0 0 0 1 8.0,8.0 v4.2 a8.0,8.0 0 0 1 -8.0,8.0 h-0.1 Z" fill="#ff3385"/>
<text x="1079.5" y="306.5" font-size="13.2" fill="#df55b4" stroke="#fff" stroke-width="2.4" stroke-linejoin="round" paint-order="stroke" class="kr">0.9%</text>
<text x="1062.5" y="293.4" font-size="13.3" fill="#3a2a10" stroke="#3a2a10" stroke-width="0.3" text-anchor="end" class="kr" font-weight="500">10대</text>
<path d="M1066.4,344.2 h43.3 a8.0,8.0 0 0 1 8.0,8.0 v4.2 a8.0,8.0 0 0 1 -8.0,8.0 h-43.3 Z" fill="#ad62ea"/>
<text x="1122.7" y="357.5" font-size="13.2" fill="#a46ee8" stroke="#fff" stroke-width="2.4" stroke-linejoin="round" paint-order="stroke" class="kr">5.7%</text>
<path d="M1066.4,370.4 h81.1 a8.0,8.0 0 0 1 8.0,8.0 v4.2 a8.0,8.0 0 0 1 -8.0,8.0 h-81.1 Z" fill="#ff3385"/>
<text x="1160.5" y="383.7" font-size="13.2" fill="#df55b4" stroke="#fff" stroke-width="2.4" stroke-linejoin="round" paint-order="stroke" class="kr">9.9%</text>
<text x="1062.5" y="370.6" font-size="13.3" fill="#3a2a10" stroke="#3a2a10" stroke-width="0.3" text-anchor="end" class="kr" font-weight="500">20대</text>
<path d="M1066.4,421.8 h80.2 a8.0,8.0 0 0 1 8.0,8.0 v4.2 a8.0,8.0 0 0 1 -8.0,8.0 h-80.2 Z" fill="#ad62ea"/>
<text x="1159.6" y="435.1" font-size="13.2" fill="#a46ee8" stroke="#fff" stroke-width="2.4" stroke-linejoin="round" paint-order="stroke" class="kr">9.8%</text>
<path d="M1066.4,448.0 h136.9 a8.0,8.0 0 0 1 8.0,8.0 v4.2 a8.0,8.0 0 0 1 -8.0,8.0 h-136.9 Z" fill="#ff3385"/>
<text x="1216.3" y="461.3" font-size="13.2" fill="#df55b4" stroke="#fff" stroke-width="2.4" stroke-linejoin="round" paint-order="stroke" class="kr">16.1%</text>
<text x="1062.5" y="448.2" font-size="13.3" fill="#3a2a10" stroke="#3a2a10" stroke-width="0.3" text-anchor="end" class="kr" font-weight="500">30대</text>
<path d="M1066.4,498.9 h96.4 a8.0,8.0 0 0 1 8.0,8.0 v4.2 a8.0,8.0 0 0 1 -8.0,8.0 h-96.4 Z" fill="#ad62ea"/>
<text x="1175.8" y="512.2" font-size="13.2" fill="#a46ee8" stroke="#fff" stroke-width="2.4" stroke-linejoin="round" paint-order="stroke" class="kr">11.6%</text>
<path d="M1066.4,525.1 h183.7 a8.0,8.0 0 0 1 8.0,8.0 v4.2 a8.0,8.0 0 0 1 -8.0,8.0 h-183.7 Z" fill="#ff3385"/>
<text x="1263.1" y="538.4" font-size="13.2" fill="#df55b4" stroke="#fff" stroke-width="2.4" stroke-linejoin="round" paint-order="stroke" class="kr">21.3%</text>
<text x="1062.5" y="525.3" font-size="13.3" fill="#3a2a10" stroke="#3a2a10" stroke-width="0.3" text-anchor="end" class="kr" font-weight="500">40대</text>
<path d="M1066.4,576.3 h67.6 a8.0,8.0 0 0 1 8.0,8.0 v4.2 a8.0,8.0 0 0 1 -8.0,8.0 h-67.6 Z" fill="#ad62ea"/>
<text x="1147.0" y="589.6" font-size="13.2" fill="#a46ee8" stroke="#fff" stroke-width="2.4" stroke-linejoin="round" paint-order="stroke" class="kr">8.4%</text>
<path d="M1066.4,602.5 h65.8 a8.0,8.0 0 0 1 8.0,8.0 v4.2 a8.0,8.0 0 0 1 -8.0,8.0 h-65.8 Z" fill="#ff3385"/>
<text x="1145.2" y="615.8" font-size="13.2" fill="#df55b4" stroke="#fff" stroke-width="2.4" stroke-linejoin="round" paint-order="stroke" class="kr">8.2%</text>
<text x="1062.5" y="602.7" font-size="13.3" fill="#3a2a10" stroke="#3a2a10" stroke-width="0.3" text-anchor="end" class="kr" font-weight="500">50대</text>
<path d="M1066.4,653.7 h37.9 a8.0,8.0 0 0 1 8.0,8.0 v4.2 a8.0,8.0 0 0 1 -8.0,8.0 h-37.9 Z" fill="#ad62ea"/>
<text x="1117.3" y="667.0" font-size="13.2" fill="#a46ee8" stroke="#fff" stroke-width="2.4" stroke-linejoin="round" paint-order="stroke" class="kr">5.1%</text>
<path d="M1066.4,679.9 h13.6 a8.0,8.0 0 0 1 8.0,8.0 v4.2 a8.0,8.0 0 0 1 -8.0,8.0 h-13.6 Z" fill="#ff3385"/>
<text x="1093.0" y="693.2" font-size="13.2" fill="#df55b4" stroke="#fff" stroke-width="2.4" stroke-linejoin="round" paint-order="stroke" class="kr">2.4%</text>
<text x="1062.5" y="680.1" font-size="13.3" fill="#3a2a10" stroke="#3a2a10" stroke-width="0.3" text-anchor="end" class="kr" font-weight="500">60대이상</text>
<line x1="1066.4" y1="251" x2="1066.4" y2="716" stroke="#4a3a1c" stroke-width="1"/>
<text x="1066.4" y="728.8" font-size="13.6" fill="#3a2a10" text-anchor="middle" class="kr" font-weight="500">0%</text>
<text x="1156.4" y="728.8" font-size="13.6" fill="#3a2a10" text-anchor="middle" class="kr" font-weight="500">10%</text>
<text x="1246.4" y="728.8" font-size="13.6" fill="#3a2a10" text-anchor="middle" class="kr" font-weight="500">20%</text>
<text x="1336.4" y="728.8" font-size="13.6" fill="#3a2a10" text-anchor="middle" class="kr" font-weight="500">30%</text>
<rect x="1154.5" y="212.7" width="13.5" height="13.5" rx="3.5" fill="#ad62ea"/>
<text x="1173" y="224" font-size="12.5" fill="#3a2a10" class="kr" font-weight="500">남</text>
<rect x="1195.4" y="212.7" width="13.5" height="13.5" rx="3.5" fill="#ff3385"/>
<text x="1213.8" y="224" font-size="12.5" fill="#3a2a10" class="kr" font-weight="500">여</text>
</svg>
<div class="abs kr pt1">분야 전체</div>
<div class="abs kr pt2">성별·연령별 구성비</div>

</body>
</html>
